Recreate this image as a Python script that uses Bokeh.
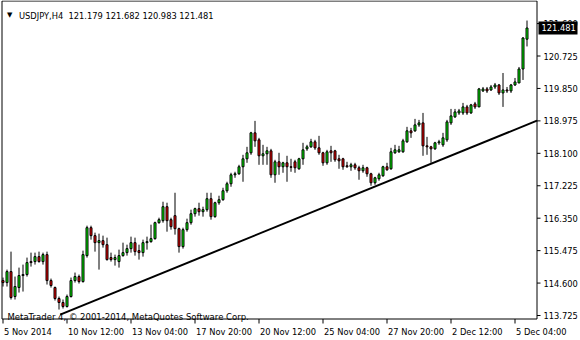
from bokeh.plotting import figure
from bokeh.models import Range1d, Label, ColumnDataSource
from bokeh.core.properties import value
from bokeh.embed import file_html
from bokeh.resources import INLINE

symbol = "USDJPY,H4"
watermark = "MetaTrader 4, \u00a9 2001-2014, MetaQuotes Software Corp."

opens = [114.667, 114.613, 114.909, 114.236, 114.479, 114.802, 114.829, 115.179, 115.179, 115.313,
         115.179, 115.367, 114.667, 114.479, 114.183, 114.075, 113.967, 114.236, 114.667, 114.775,
         114.640, 115.340, 116.094, 115.879, 115.690, 115.744, 115.636, 115.287, 115.233, 115.179,
         115.340, 115.421, 115.529, 115.690, 115.475, 115.421, 115.690, 115.717, 115.798, 116.229,
         116.283, 116.660, 116.310, 116.418, 116.067, 115.583, 116.040, 116.229, 116.471, 116.606,
         116.525, 116.579, 116.875, 116.391, 116.767, 116.848, 117.090, 117.279, 117.521, 117.548,
         117.737, 117.952, 118.114, 118.652, 118.464, 118.033, 118.087, 118.167, 117.521, 117.871,
         117.737, 117.844, 117.737, 117.871, 117.683, 117.952, 118.221, 118.275, 118.410, 118.248,
         118.114, 117.844, 118.167, 118.167, 117.952, 117.952, 117.764, 117.737, 117.790, 117.710,
         117.629, 117.710, 117.548, 117.306, 117.414, 117.494, 117.737, 117.683, 118.114, 118.141,
         118.141, 118.410, 118.706, 118.706, 118.867, 118.921, 118.302, 118.275, 118.221, 118.383,
         118.329, 118.464, 118.921, 119.083, 119.190, 119.190, 119.352, 119.190, 119.433, 119.352,
         119.783, 119.837, 119.810, 119.890, 119.944, 119.729, 119.810, 119.783, 119.944, 119.998,
         120.375, 121.179]
highs = [114.748, 114.963, 115.448, 114.775, 115.017, 115.098, 115.287, 115.421, 115.421, 115.448,
         115.421, 115.448, 114.721, 114.506, 114.236, 114.156, 114.290, 114.748, 114.883, 114.829,
         115.475, 116.148, 116.148, 115.960, 115.933, 115.879, 115.825, 115.421, 115.367, 115.502,
         115.690, 115.636, 115.852, 115.825, 115.636, 115.771, 115.852, 116.175, 116.256, 116.364,
         116.794, 116.767, 116.364, 117.036, 116.094, 116.094, 116.337, 116.579, 116.633, 116.767,
         116.660, 117.036, 117.036, 116.794, 116.956, 117.171, 117.333, 117.575, 117.602, 117.790,
         118.060, 118.275, 118.679, 118.975, 118.517, 118.329, 118.275, 118.221, 117.925, 118.114,
         117.871, 118.033, 117.952, 117.925, 117.979, 118.383, 118.329, 118.491, 118.464, 118.571,
         118.141, 118.194, 118.302, 118.194, 118.060, 117.979, 117.871, 117.844, 117.844, 117.764,
         117.790, 117.737, 117.575, 117.467, 117.575, 117.764, 117.844, 118.248, 118.329, 118.302,
         118.491, 118.814, 118.787, 119.029, 119.002, 119.190, 118.544, 118.302, 118.410, 118.464,
         118.652, 119.002, 119.298, 119.298, 119.298, 119.460, 119.406, 119.433, 119.487, 119.864,
         119.890, 119.890, 119.944, 119.998, 119.971, 120.267, 119.890, 119.971, 120.133, 120.429,
         121.237, 121.682]
lows = [114.506, 114.506, 114.156, 114.156, 114.344, 114.371, 114.775, 115.044, 115.098, 115.152,
        115.098, 114.560, 114.479, 114.129, 113.886, 113.913, 113.940, 114.210, 114.613, 114.587,
        114.613, 115.287, 115.771, 115.448, 114.963, 115.556, 115.206, 115.179, 115.071, 115.017,
        115.313, 115.340, 115.421, 115.340, 115.233, 115.313, 115.502, 115.690, 115.771, 116.202,
        116.229, 115.986, 116.040, 115.906, 115.421, 115.529, 115.986, 116.175, 116.391, 116.418,
        116.391, 116.525, 116.310, 116.364, 116.713, 116.821, 117.036, 117.198, 117.440, 117.521,
        117.333, 117.844, 118.060, 118.275, 117.790, 117.790, 117.790, 117.440, 117.306, 117.521,
        117.575, 117.333, 117.602, 117.575, 117.656, 117.790, 118.167, 118.248, 118.194, 118.060,
        117.763, 117.790, 117.871, 117.871, 117.683, 117.656, 117.710, 117.629, 117.656, 117.387,
        117.575, 117.467, 117.225, 117.252, 117.360, 117.467, 117.629, 117.656, 118.087, 118.114,
        118.114, 118.383, 118.517, 118.679, 118.814, 118.033, 118.060, 117.844, 118.194, 118.329,
        118.275, 118.410, 118.867, 119.056, 119.137, 119.137, 119.137, 119.164, 119.298, 119.352,
        119.756, 119.729, 119.783, 119.837, 119.675, 119.352, 119.729, 119.729, 119.917, 119.998,
        120.079, 120.983]
closes = [114.613, 114.909, 114.210, 114.506, 114.802, 114.829, 115.152, 115.152, 115.313, 115.179,
          115.367, 114.667, 114.533, 114.183, 114.075, 113.967, 114.236, 114.667, 114.775, 114.640,
          115.367, 116.094, 115.879, 115.690, 115.744, 115.636, 115.233, 115.233, 115.287, 115.340,
          115.421, 115.529, 115.690, 115.448, 115.421, 115.690, 115.717, 115.798, 116.229, 116.310,
          116.660, 116.283, 116.121, 116.067, 115.583, 116.040, 116.229, 116.471, 116.606, 116.525,
          116.579, 116.875, 116.391, 116.767, 116.848, 117.090, 117.279, 117.521, 117.548, 117.737,
          117.952, 118.114, 118.652, 118.437, 118.033, 118.087, 118.167, 117.521, 117.871, 117.737,
          117.844, 117.737, 117.723, 117.710, 117.952, 118.194, 118.275, 118.410, 118.248, 118.114,
          117.844, 118.141, 118.114, 117.925, 117.898, 117.737, 117.737, 117.790, 117.710, 117.629,
          117.710, 117.548, 117.306, 117.440, 117.521, 117.737, 117.656, 118.141, 118.194, 118.194,
          118.437, 118.706, 118.652, 118.867, 118.921, 118.302, 118.275, 118.221, 118.383, 118.410,
          118.517, 118.948, 119.110, 119.217, 119.244, 119.352, 119.190, 119.406, 119.352, 119.837,
          119.837, 119.783, 119.890, 119.944, 119.729, 119.810, 119.783, 119.944, 120.025, 120.375,
          121.210, 121.481]

time_tick_idx = [0, 16, 32, 48, 64, 80, 96, 112, 128]
time_tick_labels = ["5 Nov 2014", "10 Nov 12:00", "13 Nov 04:00", "17 Nov 20:00", "20 Nov 12:00",
                    "25 Nov 04:00", "27 Nov 20:00", "2 Dec 12:00", "5 Dec 04:00"]
price_ticks = [113.725, 114.600, 115.475, 116.350, 117.225, 118.100, 118.975, 119.850, 120.725, 121.600]

trend_x = [14.3, 133.5]
trend_y = [113.75, 118.98]

# ---- layout: one canvas-wide frame, MetaTrader-style scales drawn in it ----
W, H = 580, 340
PX_PER_BAR = 4.0          # pixels per H4 bar
BAR0_PX = 2.5             # page x of bar 0
PPU = 37.07               # pixels per yen
REF_PRICE, REF_PY = 113.725, 315.0
FRAME_L, FRAME_R, FRAME_T, FRAME_B = 1.5, 536.5, 0.5, 318.5

xr0 = -BAR0_PX / PX_PER_BAR
yr1 = REF_PRICE + REF_PY / PPU
yr0 = yr1 - H / PPU

def sx(px):
    return xr0 + px / PX_PER_BAR

def sy(py):
    return yr1 - py / PPU

FONT = "DejaVu Sans"
FS = "8.3px"

p = figure(width=W, height=H, x_range=Range1d(xr0, xr0 + W / PX_PER_BAR), y_range=Range1d(yr0, yr1),
           output_backend="svg", toolbar_location=None, x_axis_location=None, y_axis_location=None,
           min_border_left=0, min_border_right=0, min_border_top=0, min_border_bottom=0)
p.background_fill_color = "white"
p.border_fill_color = "white"
p.outline_line_color = None
p.grid.visible = False

# chart window frame
p.quad(left=[sx(FRAME_L)], right=[sx(FRAME_R)], top=[sy(FRAME_T)], bottom=[sy(FRAME_B)],
       fill_color=None, line_color="black", line_width=1)

# candles
n = len(opens)
src = ColumnDataSource(dict(
    idx=list(range(n)), o=opens, h=highs, l=lows, c=closes,
    top=[max(a, b) for a, b in zip(opens, closes)],
    bottom=[min(a, b) for a, b in zip(opens, closes)],
    color=["#00FF00" if c >= o else "#FF0000" for o, c in zip(opens, closes)],
))
p.segment(x0="idx", y0="h", x1="idx", y1="l", source=src, line_color="black", line_width=1)
p.vbar(x="idx", width=0.5, top="top", bottom="bottom", source=src,
       fill_color="color", line_color="black", line_width=1)

# trend line
p.line(trend_x, trend_y, line_color="black", line_width=2)

# price scale (right)
kp = len(price_ticks)
p.segment(x0=[sx(FRAME_R)] * kp, y0=price_ticks, x1=[sx(540)] * kp, y1=price_ticks,
          line_color="black", line_width=1)
p.text(x=[sx(543)] * kp, y=price_ticks, text=[f"{t:.3f}" for t in price_ticks],
       text_font=value(FONT), text_font_size=value(FS), text_color="black",
       text_align="left", text_baseline="middle")

# current price box
last = closes[-1]
p.quad(left=[sx(538)], right=[sx(577)], top=[last + 6.5 / PPU], bottom=[last - 6.5 / PPU],
       fill_color="black", line_color=None)
p.text(x=[sx(541)], y=[last], text=[f"{last:.3f}"], text_font=value(FONT), text_font_size=value(FS),
       text_color="white", text_align="left", text_baseline="middle")

# time scale (bottom)
kt = len(time_tick_idx)
p.segment(x0=time_tick_idx, y0=[sy(FRAME_B)] * kt, x1=time_tick_idx, y1=[sy(323)] * kt,
          line_color="black", line_width=1)
p.text(x=time_tick_idx, y=[sy(326)] * kt, text=time_tick_labels, x_offset=1,
       text_font=value(FONT), text_font_size=value(FS), text_color="black",
       text_align="left", text_baseline="top")

# header and watermark
title_text = f"{symbol}\u00a0\u00a0{opens[-1]:.3f} {highs[-1]:.3f} {lows[-1]:.3f} {closes[-1]:.3f}"
p.add_layout(Label(x=sx(6.5), y=sy(14), text="\u25bc", text_font=FONT, text_font_size="7px",
                   text_color="black", text_baseline="alphabetic", text_align="left"))
p.add_layout(Label(x=sx(18.5), y=sy(15), text=title_text, text_font=FONT, text_font_size=FS,
                   text_color="black", text_baseline="alphabetic", text_align="left"))
p.add_layout(Label(x=sx(7), y=sy(316), text=watermark, text_font=FONT, text_font_size="8.5px",
                   text_color="black", text_baseline="alphabetic", text_align="left"))

open("out.html", "w").write(file_html(p, INLINE))
